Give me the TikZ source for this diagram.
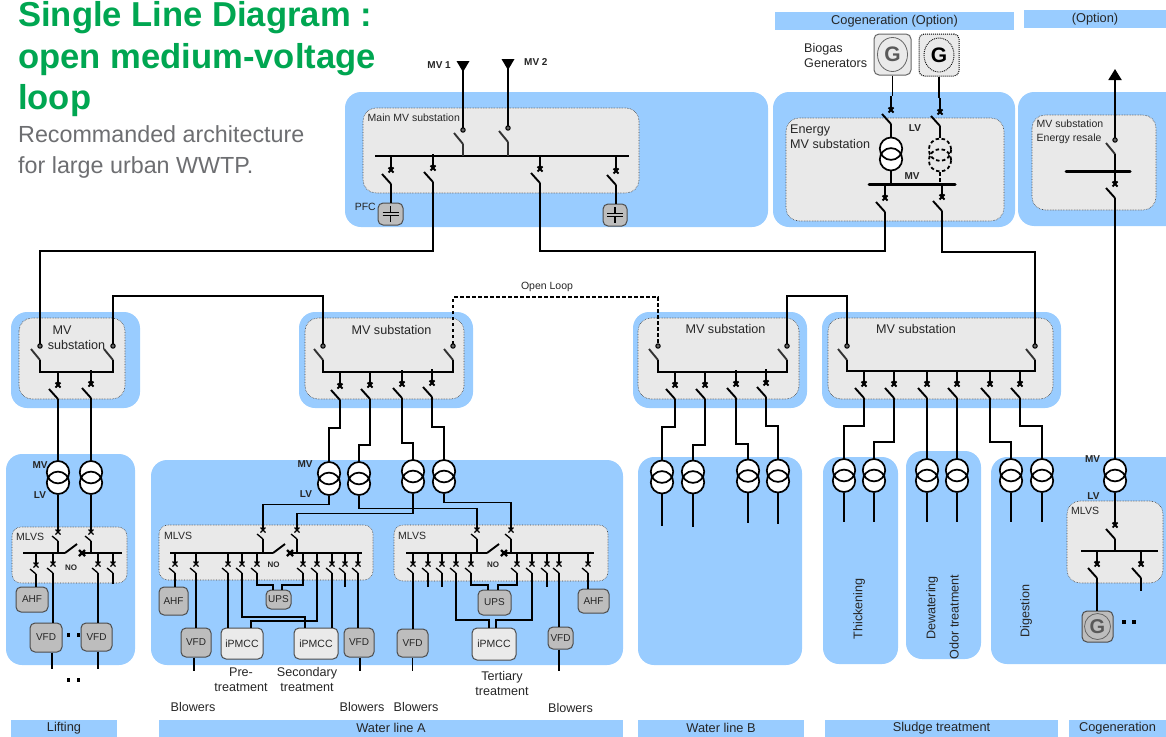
\documentclass[tikz,border=0pt]{standalone}
\usepackage{fontspec}
\setmainfont{Liberation Sans}
\usepackage{xcolor}
\usetikzlibrary{arrows.meta}
\definecolor{panelblue}{HTML}{99CCFF}
\definecolor{panelgrey}{HTML}{E9E9E9}
\definecolor{boxgrey}{HTML}{BDBDBD}
\definecolor{lightbox}{HTML}{EAEAEA}
\definecolor{titlegreen}{HTML}{00A651}
\definecolor{subtitlegrey}{HTML}{6D6E71}
\definecolor{textgrey}{HTML}{262626}

\begin{document}
\begin{tikzpicture}[x=1pt, y=-1pt,
	wire/.style={line width=1.9pt, black},
	thin wire/.style={line width=1.3pt, black},
	bus line/.style={line width=2.1pt, black},
	heavy bus/.style={line width=3pt, black, line cap=round},
	loop dash/.style={dash pattern=on 3.5pt off 2.5pt},
	blue panel/.style={fill=panelblue, rounded corners=16pt},
	grey panel/.style={fill=panelgrey, draw=black!75, densely dotted, line width=0.6pt, rounded corners=13pt},
	device node/.style={draw=black!70, fill=boxgrey, rounded corners=5pt, line width=1pt, inner sep=0pt, text=textgrey, font=\fontsize{10}{12}\selectfont},
	ipmcc node/.style={device node, fill=lightbox, font=\fontsize{10.5}{12}\selectfont},
	bar node/.style={fill=panelblue, inner sep=0pt, text=textgrey, font=\fontsize{12.8}{14}\selectfont},
	text node/.style={inner sep=0pt, text=textgrey, font=\fontsize{12.6}{14.8}\selectfont},
	small node/.style={inner sep=0pt, text=textgrey, font=\fontsize{10.5}{14}\selectfont},
	tag node/.style={inner sep=0pt, text=textgrey, font=\fontsize{10}{11}\selectfont\bfseries},
	dot node/.style={fill=black, inner sep=0pt, minimum size=3.5pt},
	breaker/.pic={
		\coordinate (-top) at (0,-14);
		\coordinate (-bot) at (0,14);
		\draw[wire] (-top) -- (0,0);
		\draw[line width=1.8pt] (-2.5,-2.5) -- (2.5,2.5) (-2.5,2.5) -- (2.5,-2.5);
		\draw[wire] (-9,4) -- (-bot);
	},
	lv breaker/.pic={
		\coordinate (-top) at (0,-11);
		\coordinate (-bot) at (0,9);
		\draw[thin wire] (-top) -- (0,0);
		\draw[line width=1.2pt] (-2.5,-2.5) -- (2.5,2.5) (-2.5,2.5) -- (2.5,-2.5);
		\draw[thin wire] (-6,4) -- (-bot);
	},
	incomer/.pic={
		\coordinate (-in) at (0,-2);
		\coordinate (-bot) at (0,14);
		\draw[line width=1pt, fill=black!60] (0,0) circle (2.2);
		\draw[wire, black!80] (-9,3) -- (-bot);
	},
	no switch/.pic={
		\coordinate (-left) at (0,0);
		\coordinate (-right) at (17,0);
		\draw[wire] (0,0) -- (12,-9);
		\draw[line width=2.2pt] (14,-3) -- (20,3) (14,3) -- (20,-3);
	},
	feed/.pic={
		\coordinate (-bot) at (0,9);
		\fill (-6.5,0) -- (6.5,0) -- (0,11) -- cycle;
	},
	transfo/.pic={
		\coordinate (-top) at (0,-17);
		\coordinate (-bot) at (0,17);
		\fill[white] (0,-5.3) circle (11.2) (0,5.3) circle (11.2);
		\draw[line width=1.7pt] (0,-5.3) circle (11.2) (0,5.3) circle (11.2);
	},
	transfo dashed/.pic={
		\coordinate (-top) at (0,-17);
		\coordinate (-bot) at (0,17);
		\draw[line width=1.8pt, loop dash] (0,-5.3) circle (11.2) (0,5.3) circle (11.2);
	},
	capacitor/.pic={
		\draw[thin wire] (0,-8) -- (0,-1.5) (-8,-1.5) -- (8,-1.5) (-8,1.5) -- (8,1.5) (0,1.5) -- (0,8);
	}]

	\useasboundingbox (0,0) rectangle (1166,736);

	% blue areas
	\fill[blue panel] (345,92) rectangle (768,227);
	\fill[blue panel] (773,92) rectangle (1015,227);
	\fill[blue panel] (1018,92) rectangle (1190,226);
	\fill[blue panel] (11,312) rectangle (140,408);
	\fill[blue panel] (299,312) rectangle (473,408);
	\fill[blue panel] (633,312) rectangle (807,408);
	\fill[blue panel] (822,312) rectangle (1061,408);
	\fill[blue panel] (6,454) rectangle (135,665);
	\fill[blue panel] (151,460) rectangle (623,665);
	\fill[blue panel] (638,457) rectangle (802,665);
	\fill[blue panel] (823,457) rectangle (898,664);
	\fill[blue panel] (906,451) rectangle (981,659);
	\fill[blue panel] (991,457) rectangle (1190,664);

	% grey substations
	\draw[grey panel] (363,108) rectangle (639,193);
	\draw[grey panel] (786,118) rectangle (1004,221);
	\draw[grey panel] (1032,115) rectangle (1156,210);
	\draw[grey panel] (19,318) rectangle (125,399);
	\draw[grey panel] (305,318) rectangle (464,399);
	\draw[grey panel] (638,318) rectangle (799,399);
	\draw[grey panel] (828,318) rectangle (1053,399);
	\draw[grey panel, rounded corners=9pt] (12,527) rectangle (127,583);
	\draw[grey panel, rounded corners=9pt] (159,525) rectangle (373,580);
	\draw[grey panel, rounded corners=9pt] (394,525) rectangle (608,581);
	\draw[grey panel] (1067,501) rectangle (1163,583);

	% titles
	\node[anchor=north west, inner sep=0pt, align=left, text=titlegreen, font=\fontsize{34.6}{41.5}\selectfont\bfseries] (title) at (18,1.5) {Single Line Diagram :\\open medium-voltage\\loop};
	\node[anchor=north west, inner sep=0pt, align=left, text=subtitlegrey, font=\fontsize{23.3}{31.2}\selectfont] (subtitle) at (18,125) {Recommanded architecture\\for large urban WWTP.};

	% header and footer bars
	\node[bar node, minimum width=239pt, minimum height=18pt] (cogenbar) at (894.5,21) {Cogeneration (Option)};
	\node[bar node, minimum width=142pt, minimum height=18pt] (optionbar) at (1095,19) {(Option)};
	\node[bar node, minimum width=106pt, minimum height=17pt] (liftingbar) at (64,728) {\raisebox{-1pt}{Lifting}};
	\node[bar node, minimum width=464pt, minimum height=17pt] (lineAbar) at (391,728) {\raisebox{-1pt}{Water line A}};
	\node[bar node, minimum width=166pt, minimum height=17pt] (lineBbar) at (721,728) {\raisebox{-1pt}{Water line B}};
	\node[bar node, minimum width=233pt, minimum height=17pt] (sludgebar) at (941.5,728) {\raisebox{-1pt}{Sludge treatment}};
	\node[bar node, minimum width=97pt, minimum height=17pt] (cogenendbar) at (1117.5,728) {\raisebox{-1pt}{Cogeneration}};

	% main MV substation
	\node[small node, anchor=west] (mainlabel) at (367.5,118) {Main MV substation};
	\pic (mv1) at (463,61) {feed};
	\pic (mv2) at (508,59) {feed};
	\node[tag node, anchor=east] (mv1label) at (451,65) {MV 1};
	\node[tag node, anchor=west] (mv2label) at (524,62) {MV 2};
	\pic (M1) at (463,130) {incomer};
	\pic (M2) at (508,128) {incomer};
	\coordinate (Mbus) at (375,156);
	\draw[wire] (mv1-bot) -- (M1-in);
	\draw[wire] (mv2-bot) -- (M2-in);
	\draw[bus line] (Mbus) -- (629,156);
	\draw[wire, black!80] (M1-bot) -- (M1-bot |- Mbus);
	\draw[wire, black!80] (M2-bot) -- (M2-bot |- Mbus);
	\pic (M3) at (391,170) {breaker};
	\pic (M4) at (433,168) {breaker};
	\pic (M5) at (540,169) {breaker};
	\pic (M6) at (616,171) {breaker};
	\node[device node, minimum width=25pt, minimum height=22pt] (cap1) at (390.5,214) {};
	\node[device node, minimum width=24pt, minimum height=22pt] (cap2) at (615,215) {};
	\pic at (cap1.center) {capacitor};
	\pic at (cap2.center) {capacitor};
	\node[small node, anchor=east] (pfclabel) at (376,207) {PFC};
	\draw[wire] (M3-bot) -- (M3-bot |- cap1.north);
	\draw[wire] (M6-bot) -- (M6-bot |- cap2.north);

	% energy MV substation
	\node[text node, anchor=west, align=left] (biogas) at (804,55.5) {Biogas\\Generators};
	\node[device node, fill=lightbox, draw=black!60, minimum width=37pt, minimum height=41pt] (G1) at (892.5,54.5) {};
	\node[device node, fill=lightbox, draw=black, densely dotted, minimum width=40pt, minimum height=42pt] (G2) at (939,55) {};
	\draw[black!60, line width=0.8pt] (G1.center) ellipse (15 and 17);
	\draw[black, densely dotted, line width=0.9pt] (G2.center) ellipse (15 and 17);
	\node[inner sep=0pt, text=black!65, font=\fontsize{21}{21}\selectfont\bfseries] (G1text) at (G1.center) {G};
	\node[inner sep=0pt, text=black, font=\fontsize{21}{21}\selectfont\bfseries] (G2text) at (G2.center) {G};
	\node[text node, anchor=west, align=left] (energylabel) at (790,137) {Energy\\MV substation};
	\node[tag node] (lvtag) at (915,128) {LV};
	\node[tag node] (mvtag) at (912,176) {MV};
	\pic (E1) at (891,110) {breaker};
	\pic (E2) at (940,112) {breaker};
	\pic (T1) at (891,154) {transfo};
	\pic (T2) at (940,155) {transfo dashed};
	\coordinate (Ebus) at (869,184);
	\draw[heavy bus] (Ebus) -- (955,184);
	\draw[wire] (G1.south) -- (G1.south |- E1-top);
	\draw[wire] (G2.south) -- (G2.south |- E2-top);
	\draw[wire] (E1-bot) -- (T1-top);
	\draw[wire] (E2-bot) -- (T2-top);
	\draw[wire] (T1-bot) -- (T1-bot |- Ebus);
	\draw[wire, loop dash] (T2-bot) -- (T2-bot |- Ebus);
	\pic (E3) at (885,198) {breaker};
	\pic (E4) at (942,197) {breaker};

	% energy resale
	\node[small node, anchor=west, align=left] (resalelabel) at (1036.5,132) {MV substation\\Energy resale};
	\pic (R1) at (1115,140) {incomer};
	\pic (R2) at (1115,184) {breaker};
	\coordinate (Rbus) at (1066,171);
	\coordinate (arrowtop) at (1115,69);
	\draw[heavy bus] (Rbus) -- (1130,171);
	\draw[wire, -{Triangle[length=11pt, width=13pt]}] (R1-in) -- (arrowtop);
	\draw[wire] (R1-bot) -- (R2-top);

	% ring
	\pic (A1) at (40,346) {incomer};
	\pic (A2) at (113,346) {incomer};
	\pic (B1) at (323,346) {incomer};
	\pic (B2) at (453,346) {incomer};
	\pic (C1) at (658,346) {incomer};
	\pic (C2) at (787,346) {incomer};
	\pic (D1) at (847,346) {incomer};
	\pic (D2) at (1035,346) {incomer};
	\draw[wire] (M4-bot) -- ++(0,69) -| (A1-in);
	\draw[wire] (A2-in) -- ++(0,-48) -| (B1-in);
	\draw[wire, loop dash] (B2-in) -- ++(0,-47) -| (C1-in);
	\draw[wire] (C2-in) -- ++(0,-48) -| (D1-in);
	\draw[wire] (M5-bot) -- ++(0,68) -| (E3-bot);
	\draw[wire] (E4-bot) -- ++(0,41) -| (D2-in);
	\node[inner sep=0pt, text=textgrey, font=\fontsize{10.5}{11}\selectfont] (looplabel) at (547,287) {Open Loop};

	% first MV substation
	\node[text node, align=left] (A1label) at (62,330) {MV};
	\node[text node] (A2label) at (76.5,345) {substation};
	\draw[bus line] (A1-bot) -- ++(0,12) -| (A2-bot);
	\pic (A3) at (58,385) {breaker};
	\pic (A4) at (91,384) {breaker};
	\pic (TA1) at (58,477.5) {transfo};
	\pic (TA2) at (91,477.5) {transfo};
	\draw[wire] (A3-bot) -- (TA1-top);
	\draw[wire] (A4-bot) -- (TA2-top);
	\node[tag node] (TA1mv) at (40,465) {MV};
	\node[tag node] (TA1lv) at (40,495) {LV};

	% second MV substation
	\node[text node] (B1label) at (391.5,329.5) {MV substation};
	\draw[bus line] (B1-bot) -- ++(0,12) -| (B2-bot);
	\pic (B3) at (340,386) {breaker};
	\pic (B4) at (370,385) {breaker};
	\pic (B5) at (402,384) {breaker};
	\pic (B6) at (432,383) {breaker};
	\pic (TB1) at (329,478.5) {transfo};
	\pic (TB2) at (359,478.5) {transfo};
	\pic (TB3) at (413,476.5) {transfo};
	\pic (TB4) at (444,476.5) {transfo};
	\draw[wire] (B3-bot) -- ++(0,28) -| (TB1-top);
	\draw[wire] (B4-bot) -- ++(0,46) -| (TB2-top);
	\draw[wire] (B5-bot) -- ++(0,45) -| (TB3-top);
	\draw[wire] (B6-bot) -- ++(0,30) -| (TB4-top);
	\node[tag node] (TB1mv) at (305,464) {MV};
	\node[tag node] (TB1lv) at (306,494) {LV};

	% third MV substation
	\node[text node] (C1label) at (725.5,329) {MV substation};
	\draw[bus line] (C1-bot) -- ++(0,12) -| (C2-bot);
	\pic (C3) at (675,385) {breaker};
	\pic (C4) at (705,385) {breaker};
	\pic (C5) at (736,384) {breaker};
	\pic (C6) at (766,383) {breaker};
	\pic (TC1) at (662,477) {transfo};
	\pic (TC2) at (693,477) {transfo};
	\pic (TC3) at (748,476) {transfo};
	\pic (TC4) at (778,476) {transfo};
	\draw[wire] (C3-bot) -- ++(0,28) -| (TC1-top);
	\draw[wire] (C4-bot) -- ++(0,46) -| (TC2-top);
	\draw[wire] (C5-bot) -- ++(0,46) -| (TC3-top);
	\draw[wire] (C6-bot) -- ++(0,29) -| (TC4-top);
	\draw[thin wire] (TC1-bot) -- ++(0,32);
	\draw[thin wire] (TC2-bot) -- ++(0,33);
	\draw[thin wire] (TC3-bot) -- ++(0,30);
	\draw[thin wire] (TC4-bot) -- ++(0,31);

	% fourth MV substation
	\node[text node] (D1label) at (916,329) {MV substation};
	\draw[bus line] (D1-bot) -- ++(0,11) -| (D2-bot);
	\pic (D3) at (864,384) {breaker};
	\pic (D4) at (894,384) {breaker};
	\pic (D5) at (927,384) {breaker};
	\pic (D6) at (957,384) {breaker};
	\pic (D7) at (990,384) {breaker};
	\pic (D8) at (1020,384) {breaker};
	\pic (TD1) at (844,475.5) {transfo};
	\pic (TD2) at (874,475.5) {transfo};
	\pic (TD3) at (927,475.5) {transfo};
	\pic (TD4) at (957,475.5) {transfo};
	\pic (TD5) at (1011,475.5) {transfo};
	\pic (TD6) at (1042,475.5) {transfo};
	\draw[wire] (D3-bot) -- ++(0,28) -| (TD1-top);
	\draw[wire] (D4-bot) -- ++(0,44) -| (TD2-top);
	\draw[wire] (D5-bot) -- (TD3-top);
	\draw[wire] (D6-bot) -- (TD4-top);
	\draw[wire] (D7-bot) -- ++(0,44) -| (TD5-top);
	\draw[wire] (D8-bot) -- ++(0,28) -| (TD6-top);
	\draw[thin wire] (TD1-bot) -- ++(0,29);
	\draw[thin wire] (TD2-bot) -- ++(0,29);
	\draw[thin wire] (TD3-bot) -- ++(0,29);
	\draw[thin wire] (TD4-bot) -- ++(0,29);
	\draw[thin wire] (TD5-bot) -- ++(0,29);
	\draw[thin wire] (TD6-bot) -- ++(0,29);
	\node[text node, rotate=90] (thickening) at (859,609) {Thickening};
	\node[text node, rotate=90] (dewatering) at (932,608) {Dewatering};
	\node[text node, rotate=90] (odor) at (954,617) {Odor treatment};
	\node[text node, rotate=90] (digestion) at (1026,611) {Digestion};

	% lifting MLVS
	\node[small node, anchor=west] (L0label) at (16,537) {MLVS};
	\pic (L1) at (58,532) {lv breaker};
	\pic (L2) at (91,532) {lv breaker};
	\pic (Lno) at (65,553) {no switch};
	\coordinate (Lbus) at (23,553);
	\draw[bus line] (Lbus) -- (Lno-left);
	\draw[bus line] (Lno-right) -- (122,553);
	\draw[thin wire] (TA1-bot) -- (L1-top);
	\draw[thin wire] (TA2-bot) -- (L2-top);
	\draw[thin wire] (L1-bot) -- (L1-bot |- Lbus);
	\draw[thin wire] (L2-bot) -- (L2-bot |- Lbus);
	\pic (L3) at (36,565) {lv breaker};
	\pic (L4) at (53,564) {lv breaker};
	\pic (L5) at (98,564) {lv breaker};
	\pic (L6) at (113,564) {lv breaker};
	\node[tag node, font=\fontsize{8}{9}\selectfont\bfseries] (Lnolabel) at (71,568) {NO};
	\node[device node, minimum width=32pt, minimum height=25pt] (Lahf) at (32,599.5) {AHF};
	\node[device node, minimum width=32pt, minimum height=29pt] (Lvfd1) at (46,637.5) {VFD};
	\node[device node, minimum width=31pt, minimum height=28pt] (Lvfd2) at (96.5,637) {VFD};
	\draw[thin wire] (L3-bot) -- (L3-bot |- Lahf.north);
	\draw[thin wire] (L4-bot) -- (L4-bot |- Lvfd1.north);
	\draw[thin wire] (L5-bot) -- (L5-bot |- Lvfd2.north);
	\draw[thin wire] (L6-bot) -- ++(0,11);
	\draw[thin wire] (Lvfd1.south -| 52,0) -- ++(0,16);
	\draw[thin wire] (Lvfd2.south -| 98,0) -- ++(0,17);
	\node[dot node] (Ldot1) at (68.5,635) {};
	\node[dot node] (Ldot2) at (78.5,635) {};
	\node[dot node] (Ldot3) at (68.5,680) {};
	\node[dot node] (Ldot4) at (78.5,680) {};

	% water line A, left MLVS
	\node[small node, anchor=west] (W1label) at (164,536) {MLVS};
	\pic (W1) at (263,530) {lv breaker};
	\pic (W2) at (297,530) {lv breaker};
	\pic (W1no) at (273,553) {no switch};
	\coordinate (W1bus) at (170,553);
	\draw[bus line] (W1bus) -- (W1no-left);
	\draw[bus line] (W1no-right) -- (362,553);
	\draw[thin wire] (TB1-bot) -- ++(0,9) -| (W1-top);
	\draw[thin wire] (TB3-bot) -- ++(0,20) -| (W2-top);
	\draw[thin wire] (W1-bot) -- (W1-bot |- W1bus);
	\draw[thin wire] (W2-bot) -- (W2-bot |- W1bus);
	\pic (W3) at (175,564) {lv breaker};
	\pic (W4) at (196,564) {lv breaker};
	\pic (W5) at (228,564) {lv breaker};
	\pic (W6) at (242,564) {lv breaker};
	\pic (W7) at (257,564) {lv breaker};
	\pic (W8) at (303,564) {lv breaker};
	\pic (W9) at (317,564) {lv breaker};
	\pic (W10) at (332,564) {lv breaker};
	\pic (W11) at (345,564) {lv breaker};
	\pic (W12) at (358,564) {lv breaker};
	\node[tag node, font=\fontsize{8}{9}\selectfont\bfseries] (W1nolabel) at (273.5,565) {NO};
	\node[device node, minimum width=29pt, minimum height=28pt] (W1ahf) at (173.5,601) {AHF};
	\node[device node, minimum width=30pt, minimum height=29pt] (W1vfd1) at (196,642.5) {VFD};
	\node[ipmcc node, minimum width=42pt, minimum height=31pt] (W1pm1) at (242,643.5) {iPMCC};
	\node[ipmcc node, minimum width=44pt, minimum height=31pt] (W1pm2) at (316,643.5) {iPMCC};
	\node[device node, minimum width=30pt, minimum height=29pt] (W1vfd2) at (359,642.5) {VFD};
	\node[device node, minimum width=25pt, minimum height=19pt] (W1ups) at (278.5,599.5) {UPS};
	\draw[thin wire] (W3-bot) -- (W3-bot |- W1ahf.north);
	\draw[thin wire] (W4-bot) -- (W4-bot |- W1vfd1.north);
	\draw[thin wire] (W5-bot) -- (W5-bot |- W1pm1.north);
	\draw[thin wire] (W6-bot) |- (305,617) -- (W1pm2.north -| 305,0);
	\draw[thin wire] (W7-bot) |- (273,585) -- (W1ups.north -| 273,0);
	\draw[thin wire] (W8-bot) |- (282,585) -- (W1ups.north -| 282,0);
	\draw[thin wire] (W9-bot) |- (251,621) -- (W1pm1.north -| 251,0);
	\draw[thin wire] (W10-bot) -- (W10-bot |- W1pm2.north);
	\draw[thin wire] (W11-bot) -- ++(0,14);
	\draw[thin wire] (W12-bot) -- (W12-bot |- W1vfd2.north);
	\draw[thin wire] (W1vfd1.south -| 194,0) -- ++(0,13);
	\draw[thin wire] (W1vfd2.south -| 360,0) -- ++(0,13);
	\node[text node, align=center] (pretext) at (241,679.5) {Pre-\\treatment};
	\node[text node, align=center] (sectext) at (307,679.5) {Secondary\\treatment};
	\node[text node] (blow1) at (193,707) {Blowers};
	\node[text node] (blow2) at (362,707) {Blowers};

	% water line A, right MLVS
	\node[small node, anchor=west] (W2label) at (398,536) {MLVS};
	\pic (X1) at (477,530) {lv breaker};
	\pic (X2) at (511,530) {lv breaker};
	\pic (X1no) at (487,553) {no switch};
	\coordinate (X1bus) at (406,553);
	\draw[bus line] (X1bus) -- (X1no-left);
	\draw[bus line] (X1no-right) -- (594,553);
	\draw[thin wire] (TB2-bot) -- ++(0,13) -| (X1-top);
	\draw[thin wire] (TB4-bot) -- ++(0,9) -| (X2-top);
	\draw[thin wire] (X1-bot) -- (X1-bot |- X1bus);
	\draw[thin wire] (X2-bot) -- (X2-bot |- X1bus);
	\pic (X3) at (413,564) {lv breaker};
	\pic (X4) at (428,564) {lv breaker};
	\pic (X5) at (442,564) {lv breaker};
	\pic (X6) at (456,564) {lv breaker};
	\pic (X7) at (471,564) {lv breaker};
	\pic (X8) at (517,564) {lv breaker};
	\pic (X9) at (532,564) {lv breaker};
	\pic (X10) at (547,564) {lv breaker};
	\pic (X11) at (559,564) {lv breaker};
	\pic (X12) at (588,564) {lv breaker};
	\node[tag node, font=\fontsize{8}{9}\selectfont\bfseries] (X1nolabel) at (493,565) {NO};
	\node[device node, minimum width=31pt, minimum height=28pt] (X1vfd1) at (412.5,643) {VFD};
	\node[device node, minimum width=33pt, minimum height=25pt] (X1ups) at (494.5,602.5) {UPS};
	\node[ipmcc node, minimum width=44pt, minimum height=32pt] (X1pm) at (494,644) {iPMCC};
	\node[device node, minimum width=25pt, minimum height=22pt] (X1vfd2) at (560.5,638) {VFD};
	\node[device node, minimum width=31pt, minimum height=24pt] (X1ahf) at (593.5,601) {AHF};
	\draw[thin wire] (X3-bot) -- (X3-bot |- X1vfd1.north);
	\draw[thin wire] (X4-bot) -- ++(0,14);
	\draw[thin wire] (X5-bot) -- ++(0,14);
	\draw[thin wire] (X6-bot) |- (489,620) -- (X1pm.north -| 489,0);
	\draw[thin wire] (X7-bot) |- (488,585) -- (X1ups.north -| 488,0);
	\draw[thin wire] (X8-bot) |- (498,585) -- (X1ups.north -| 498,0);
	\draw[thin wire] (X9-bot) |- (496,620) -- (X1pm.north -| 496,0);
	\draw[thin wire] (X10-bot) -- ++(0,14);
	\draw[thin wire] (X11-bot) -- (X11-bot |- X1vfd2.north);
	\draw[thin wire] (X12-bot) -- (X12-bot |- X1ahf.north);
	\draw[thin wire] (X1vfd1.south) -- ++(0,13);
	\draw[thin wire] (X1vfd2.south -| 559,0) -- ++(0,21);
	\node[text node, align=center] (tertext) at (502,683.5) {Tertiary\\treatment};
	\node[text node] (blow3) at (416,707) {Blowers};
	\node[text node] (blow4) at (570.5,708) {Blowers};

	% cogeneration on the right
	\pic (TG) at (1115,475.5) {transfo};
	\draw[wire] (R2-bot) -- (TG-top);
	\node[tag node] (TGmv) at (1092.5,459) {MV};
	\node[tag node] (TGlv) at (1093.5,496) {LV};
	\node[small node, anchor=west] (Glabel) at (1071,511) {MLVS};
	\pic (K1) at (1115,525) {breaker};
	\coordinate (Kbus) at (1081,551);
	\draw[bus line] (Kbus) -- (1158,551);
	\draw[thin wire] (TG-bot) -- (K1-top);
	\draw[wire] (K1-bot) -- (K1-bot |- Kbus);
	\pic (K2) at (1097,564) {breaker};
	\pic (K3) at (1141,564) {breaker};
	\node[device node, minimum width=31pt, minimum height=31pt] (Gbox) at (1097.5,626.5) {};
	\draw[black!60, line width=0.8pt] (Gbox.center) circle (13);
	\node[inner sep=0pt, text=black!65, font=\fontsize{20}{20}\selectfont\bfseries] (Gtext) at (Gbox.center) {G};
	\draw[wire] (K2-bot) -- (K2-bot |- Gbox.north);
	\draw[wire] (K3-bot) -- ++(0,13);
	\node[dot node] (Kdot1) at (1124,622) {};
	\node[dot node] (Kdot2) at (1134,622) {};

\end{tikzpicture}
\end{document}
